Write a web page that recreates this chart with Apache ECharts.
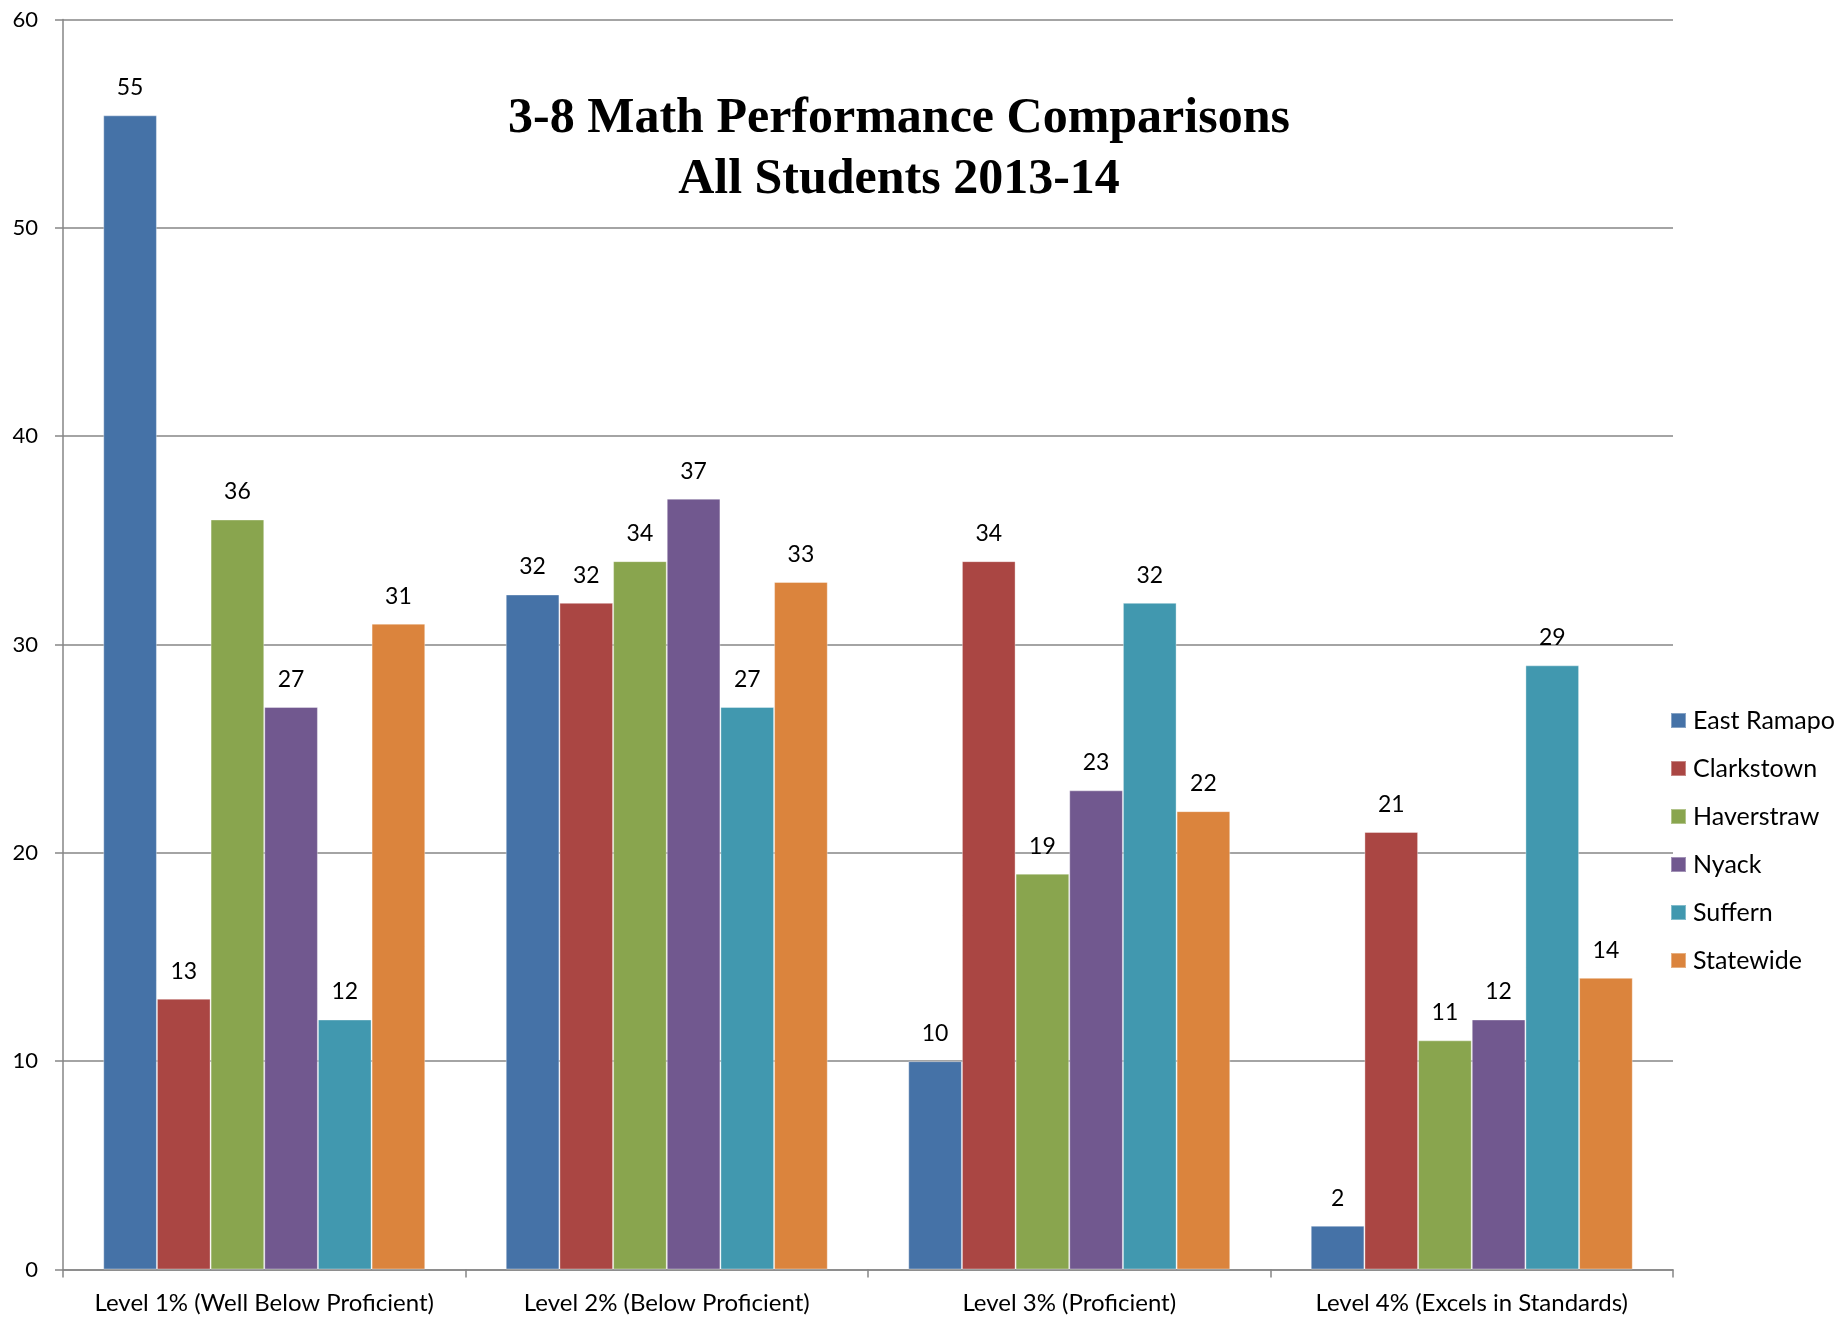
<!DOCTYPE html>
<html>
<head>
<meta charset="utf-8">
<title>3-8 Math Performance Comparisons</title>
<script src="https://cdn.jsdelivr.net/npm/echarts@6/dist/echarts.min.js"></script>
<style>
    html, body { margin: 0; padding: 0; background: #fff; }
    #chart { width: 1837px; height: 1319px; }
</style>
</head>
<body>
<div id="chart"></div>
<script>
// 数据
const categories = ['Level 1% (Well Below Proficient)', 'Level 2% (Below Proficient)', 'Level 3% (Proficient)', 'Level 4% (Excels in Standards)'];
const eastRamapo = [55.4, 32.4, 10, 2.1];
const clarkstown = [13, 32, 34, 21];
const haverstraw = [36, 34, 19, 11];
const nyack = [27, 37, 23, 12];
const suffern = [12, 27, 32, 29];
const statewide = [31, 33, 22, 14];
const seriesNames = ['East Ramapo', 'Clarkstown', 'Haverstraw', 'Nyack', 'Suffern', 'Statewide'];
const colors = ['#4572A7', '#AA4643', '#89A54E', '#71588F', '#4198AF', '#DB843D'];

const font = 'Lato, "Open Sans", sans-serif';
const gray = '#868686';

function makeSeries(name, data, i) {
    return {
        name: name,
        type: 'bar',
        data: data,
        barGap: 0,
        barCategoryGap: '20%',
        itemStyle: { color: colors[i], borderColor: 'rgba(255,255,255,0.35)', borderWidth: 1 },
        label: {
            show: true,
            position: 'top',
            distance: 16,
            color: '#000',
            fontFamily: font,
            fontSize: 23,
            formatter: p => Math.round(p.value)
        }
    };
}

const chart = echarts.init(document.getElementById('chart'));
chart.setOption({
    animation: false,
    color: colors,
    title: {
        text: '3-8 Math Performance Comparisons\nAll Students 2013-14',
        left: 894,
        top: 84,
        textAlign: 'center',
        textStyle: {
            fontFamily: '"Liberation Serif", "DejaVu Serif", serif',
            fontSize: 50,
            fontWeight: 'bold',
            lineHeight: 61,
            color: '#000'
        }
    },
    legend: {
        orient: 'vertical',
        left: 1665,
        top: 703,
        itemWidth: 15,
        itemHeight: 15,
        itemGap: 23,
        icon: 'rect',
        data: seriesNames,
        textStyle: { fontFamily: font, fontSize: 25, color: '#000', lineHeight: 25, padding: [0, 0, 0, 2] }
    },
    grid: { left: 63, right: 164, top: 19.5, bottom: 49.5, containLabel: false },
    xAxis: {
        type: 'category',
        data: categories,
        axisLine: { lineStyle: { color: gray, width: 1.5 } },
        axisTick: { show: true, interval: 0, length: 8, lineStyle: { color: gray, width: 1.5 } },
        axisLabel: { interval: 0, color: '#000', fontFamily: font, fontSize: 24, margin: 22 }
    },
    yAxis: {
        type: 'value',
        min: 0,
        max: 60,
        interval: 10,
        axisLine: { show: true, lineStyle: { color: gray, width: 1.5 } },
        axisTick: { show: true, length: 8, lineStyle: { color: gray, width: 1.5 } },
        splitLine: { lineStyle: { color: gray, width: 1.5 } },
        axisLabel: { color: '#000', fontFamily: font, fontSize: 22, margin: 25 }
    },
    series: [
        makeSeries(seriesNames[0], eastRamapo, 0),
        makeSeries(seriesNames[1], clarkstown, 1),
        makeSeries(seriesNames[2], haverstraw, 2),
        makeSeries(seriesNames[3], nyack, 3),
        makeSeries(seriesNames[4], suffern, 4),
        makeSeries(seriesNames[5], statewide, 5)
    ]
});
</script>
</body>
</html>
